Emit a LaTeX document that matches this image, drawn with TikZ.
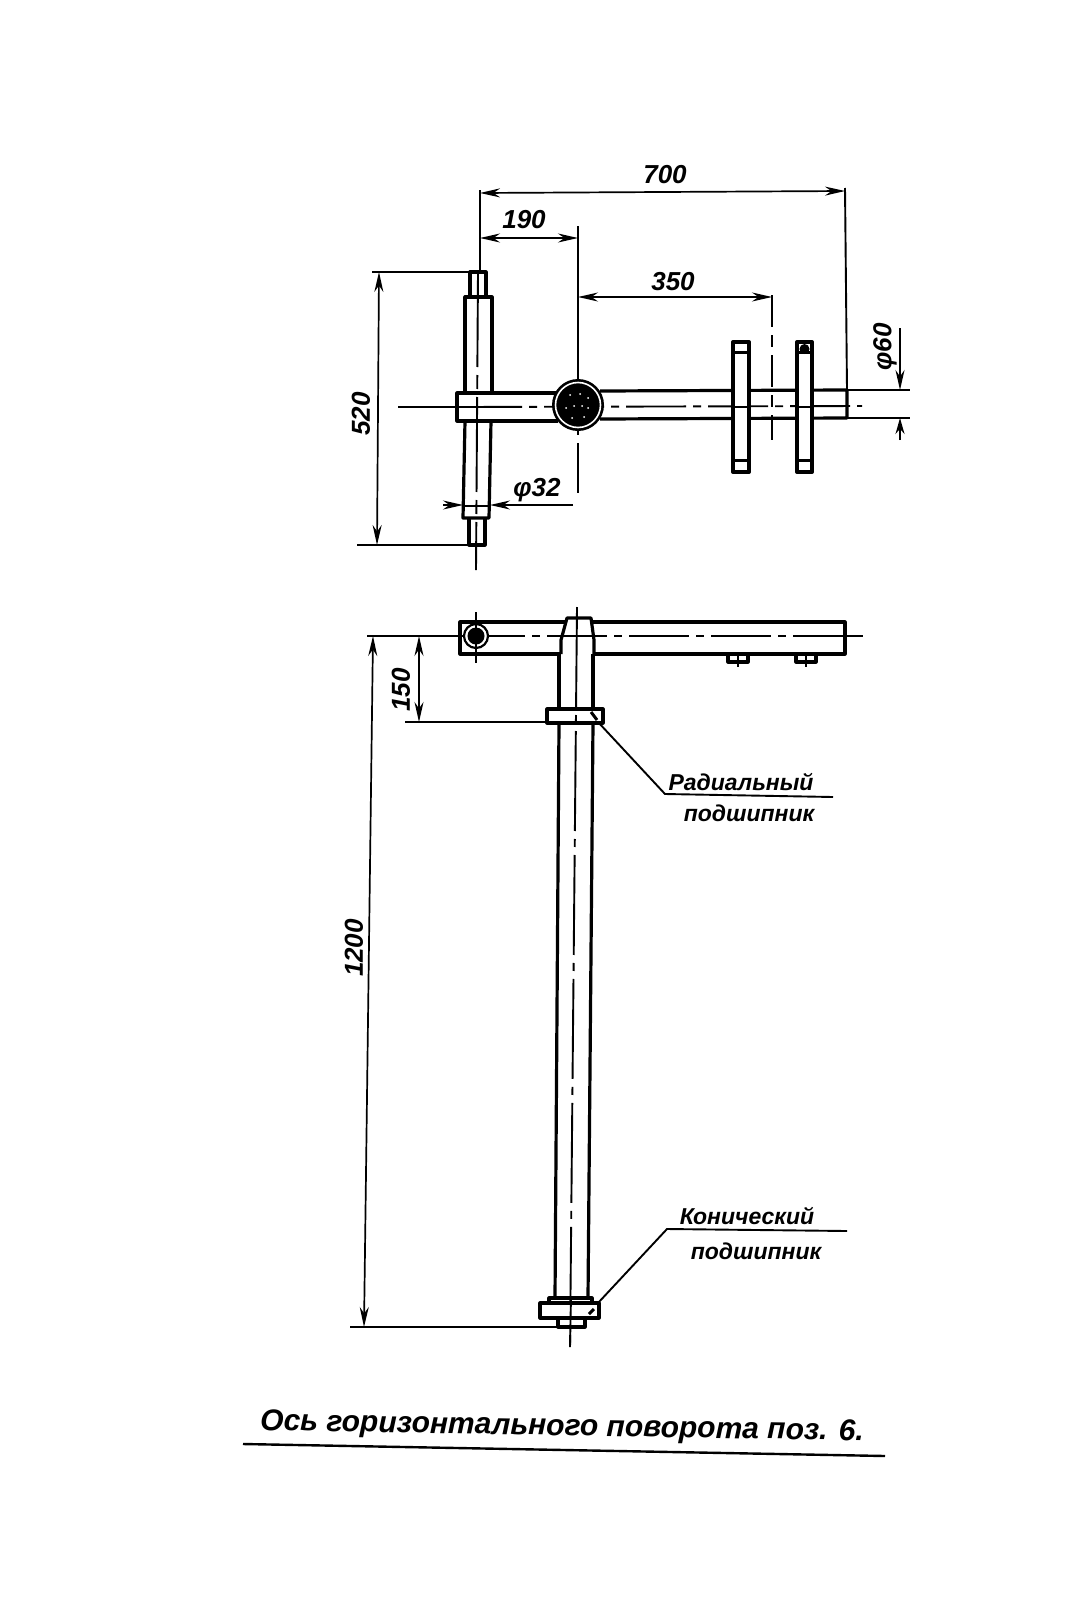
\documentclass[tikz,border=0pt]{standalone}
\usepackage{fontspec}
\setmainfont{Liberation Sans}
\usetikzlibrary{arrows.meta}
\tikzset{
  part/.style={line width=3.2pt,line join=round},
  thinl/.style={line width=1.9pt},
  axis/.style={line width=1.9pt,dash pattern=on 60pt off 7pt on 8pt off 7pt},
  dimline/.style={line width=1.7pt,{Stealth[length=20pt,width=9pt]}-{Stealth[length=20pt,width=9pt]}},
  oneend/.style={line width=1.7pt,-{Stealth[length=20pt,width=9pt]}},
  lbl/.style={inner sep=0pt,font=\fontsize{26}{26}\selectfont\itshape\bfseries},
  note/.style={inner sep=0pt,font=\fontsize{23}{23}\selectfont\itshape\bfseries},
  title/.style={inner sep=0pt,font=\fontsize{30}{30}\selectfont\itshape\bfseries}
}
\begin{document}
\begin{tikzpicture}[x=1pt,y=-1pt]
\useasboundingbox (0,0) rectangle (1090,1600);
\fill[white] (0,0) rectangle (1090,1600);

% ---------- top view
\coordinate (dl) at (480,193); \coordinate (dr) at (845,191);
\coordinate (el) at (480,238); \coordinate (em) at (578,238);
\coordinate (ml) at (578,297); \coordinate (mr) at (772,297);
% axes
\draw[thinl] (480,190) -- (480,272);
\draw[thinl] (578,226) -- (578,355);
\draw[thinl,dash pattern=on 60pt off 8pt on 12pt off 8pt] (578,355) -- (578,493);
\draw[thinl] (845,188) -- (847,390);
\draw[thinl,dash pattern=on 32pt off 8pt on 12pt off 8pt] (772,295) -- (772,440);
\draw[thinl] (398,407) -- (462,407);
\draw[axis] (462,407) -- (862,406);
% shaft
\draw[part] (470,297) -- (470,272) -- (486,272) -- (486,297);
\draw[part] (465,393) -- (465,297) -- (492,297) -- (492,393);
\draw[part] (465,421) -- (463,518) -- (489,518) -- (491,421);
\draw[part] (469,518) -- (469,545) -- (485,545) -- (485,518);
\draw[thinl] (463,506) -- (489,506);
\draw[thinl,dash pattern=on 95pt off 8pt on 14pt off 8pt] (478,272) -- (476,570);
% arm
\draw[part] (557,393) -- (457,393) -- (457,421) -- (558,421);
\draw[part] (600,391) -- (847,390) -- (847,418) -- (600,419);
\draw[thinl] (847,390) -- (910,390);
\draw[thinl] (847,418) -- (910,418);
% hub
\fill[black] (578,405) circle (26);
\draw[white,line width=1.6pt] (578,405) circle (22.5);
\foreach \a/\b in {570/395,580/394,588/398,566/408,574/406,582/406,588/408,584/417,572/418}
  \fill[white] (\a,\b) circle (1);
% plates
\foreach \xa/\xb in {733/749,797/812}{
  \draw[line width=4pt,line join=round,fill=white] (\xa,342) rectangle (\xb,472);
  \draw[thinl] (\xa,407) -- (\xb,407);
  \draw[line width=3pt] (\xa,352) -- (\xb,352);
  \draw[line width=3pt] (\xa,460) -- (\xb,460);
}
\fill[black] (804.5,349) circle (5);
% dimensions
\draw[dimline] (dl) -- (dr);
\draw[dimline] (el) -- (em);
\draw[dimline] (ml) -- (mr);
\draw[thinl] (372,272) -- (486,272);
\draw[thinl] (357,545) -- (485,545);
\coordinate (a) at (379,272); \coordinate (b) at (377,545);
\draw[dimline] (a) -- (b);
\coordinate (p1) at (443,505); \coordinate (p2) at (463,505);
\draw[oneend] (p1) -- (p2);
\coordinate (q1) at (573,505); \coordinate (q2) at (490,505);
\draw[oneend] (q1) -- (q2);
\coordinate (s1) at (900,328); \coordinate (s2) at (900,390);
\draw[oneend] (s1) -- (s2);
\coordinate (t1) at (900,440); \coordinate (t2) at (900,418);
\draw[line width=1.7pt,-{Stealth[length=16pt,width=9pt]}] (t1) -- (t2);

\node[lbl] (t700) at (665,175) {700};
\node[lbl] (t190) at (524,220) {190};
\node[lbl] (t350) at (673,282) {350};
\node[lbl,rotate=90] (t520) at (361,414) {520};
\node[lbl] (t32) at (537,490) {φ32};
\node[lbl,rotate=90] (t60) at (885,347) {φ60};

% ---------- front view
\draw[thinl] (367,636) -- (465,636);
\draw[axis] (465,636) -- (845,636);
\draw[thinl] (845,636) -- (863,636);
\draw[part] (565,622) -- (460,622) -- (460,654) -- (561,654);
\draw[part] (591,622) -- (845,622) -- (845,654) -- (594,654);
\draw[part] (561,654) -- (561,640) -- (567,618) -- (591,618) -- (594,640) -- (594,654);
\draw[part] (559,654) -- (559,710);
\draw[part] (593,654) -- (593,710);
\draw[part] (559,723) -- (555,1298);
\draw[part] (593,723) -- (588,1298);
\draw[part,fill=white] (547,709) rectangle (603,723);
\draw[axis,dash pattern=on 100pt off 8pt on 8pt off 8pt] (577,607) -- (570,1347);
% small pin
\draw[line width=2.2pt,fill=white] (476,636) circle (12);
\fill[black] (476,636) circle (8.5);
\draw[thinl] (476,612) -- (476,663);
% lugs
\foreach \xa/\xb/\xc in {728/748/738,796/816/806}{
  \draw[part] (\xa,654) -- (\xa,662) -- (\xb,662) -- (\xb,654);
  \draw[thinl] (\xc,654) -- (\xc,667);
}
% bottom bearing
\draw[part] (549,1303) -- (549,1298) -- (592,1298) -- (592,1303);
\draw[part,fill=white] (540,1303) rectangle (599,1318);
\draw[part,fill=white] (558,1318) rectangle (585,1327);
\draw[thinl] (571,1296) -- (570,1347);
% dimensions
\coordinate (c1) at (419,636); \coordinate (c2) at (419,722);
\draw[dimline] (c1) -- (c2);
\draw[thinl] (405,722) -- (547,722);
\coordinate (d1) at (373,636); \coordinate (d2) at (364,1327);
\draw[dimline] (d1) -- (d2);
\draw[thinl] (350,1327) -- (558,1327);
\node[lbl,rotate=90] (t150) at (401,690) {150};
\node[lbl,rotate=90] (t1200) at (354,948) {1200};
% leaders
\draw[line width=3pt] (591,712) -- (597,720);
\coordinate (r0) at (598,722); \coordinate (r1) at (665,794); \coordinate (r2) at (833,797);
\draw[thinl] (r0) -- (r1) -- (r2);
\draw[line width=3pt] (589,1314) -- (594,1309);
\coordinate (k0) at (598,1303); \coordinate (k1) at (667,1229); \coordinate (k2) at (847,1231);
\draw[thinl] (k0) -- (k1) -- (k2);
\node[note] (n1) at (741,782) {Радиальный};
\node[note] (n2) at (749,813) {подшипник};
\node[note] (n3) at (747,1216) {Конический};
\node[note] (n4) at (756,1251) {подшипник};
% title
\node[title,rotate=-1] (tt) at (562,1428) {Ось горизонтального поворота поз. 6.};
\coordinate (u1) at (243,1444); \coordinate (u2) at (885,1456);
\draw[line width=2.4pt] (u1) -- (u2);
\end{tikzpicture}
\end{document}
